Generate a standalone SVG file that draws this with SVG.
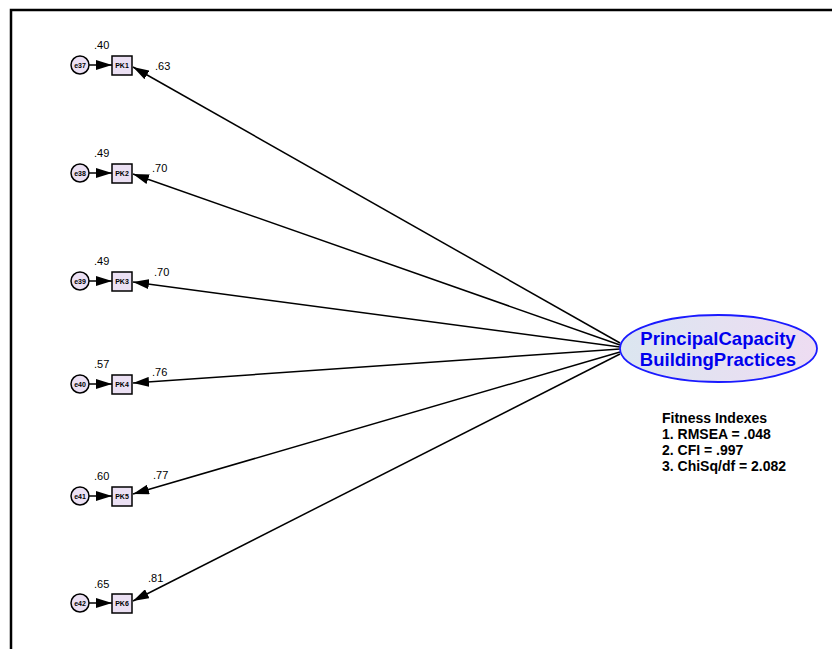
<svg xmlns="http://www.w3.org/2000/svg" width="832" height="649" viewBox="0 0 832 649">
  <defs>
    <linearGradient id="latentFill" x1="0" y1="0" x2="1" y2="0">
      <stop offset="0" stop-color="#dbe6f0"/>
      <stop offset="1" stop-color="#eedcf2"/>
    </linearGradient>
    <marker id="arrow" viewBox="0 0 16 10" refX="16" refY="5" markerWidth="16" markerHeight="10" markerUnits="userSpaceOnUse" orient="auto">
      <path d="M0,0 L16,5 L0,10 Z" fill="#000"/>
    </marker>
  </defs>
  <style>
    .frame { fill: none; stroke: #000; stroke-width: 2.5; }
    .obs { fill: #ebe0f3; stroke: #000; stroke-width: 1.5; }
    .err { fill: #ebe0f3; stroke: #000; stroke-width: 1.5; }
    .lbl { font-family: "Liberation Sans", Arial, sans-serif; font-weight: bold; font-size: 7px; text-anchor: middle; fill: #000; }
    .num { font-family: "Liberation Sans", Arial, sans-serif; font-size: 11px; fill: #000; }
    .path { stroke: #000; stroke-width: 1.5; fill: none; marker-end: url(#arrow); }
    .latent { fill: url(#latentFill); stroke: #1a1aff; stroke-width: 1.8; }
    .latentTxt { font-family: "Liberation Sans", Arial, sans-serif; font-weight: bold; font-size: 18.5px; text-anchor: middle; fill: #0000ee; }
    .fit { font-family: "Liberation Sans", Arial, sans-serif; font-weight: bold; font-size: 14px; fill: #000; }
  </style>

  <rect width="832" height="649" fill="#fff"/>
  <!-- frame: only top and left edges fall inside the canvas -->
  <path class="frame" d="M11,649 L11,10 L832,10"/>

  <!-- connectors -->
  <g id="connectors">
    <line class="path" x1="89" y1="65" x2="112" y2="65"/>
    <line class="path" x1="89" y1="173" x2="112" y2="173"/>
    <line class="path" x1="89" y1="281" x2="112" y2="281"/>
    <line class="path" x1="89" y1="384" x2="112" y2="384"/>
    <line class="path" x1="89" y1="496" x2="112" y2="496"/>
    <line class="path" x1="89" y1="603" x2="112" y2="603"/>

    <line class="path" x1="620" y1="343" x2="133" y2="67"/>
    <line class="path" x1="620" y1="345" x2="133" y2="174"/>
    <line class="path" x1="620" y1="347" x2="133" y2="282"/>
    <line class="path" x1="620" y1="349" x2="133" y2="383"/>
    <line class="path" x1="620" y1="352" x2="133" y2="494"/>
    <line class="path" x1="620" y1="354" x2="133" y2="601"/>
  </g>

  <!-- indicator PK1 -->
  <g id="pk1">
    <rect class="obs" x="112" y="56" width="20" height="19"/>
    <text class="lbl" x="122" y="67.5">PK1</text>
    <text class="num" x="94" y="49">.40</text>
    <text class="num" x="155" y="70">.63</text>
  </g>
  <g id="e37">
    <circle class="err" cx="80" cy="65" r="9"/>
    <text class="lbl" x="80" y="67.5">e37</text>
  </g>

  <!-- indicator PK2 -->
  <g id="pk2">
    <rect class="obs" x="112" y="164" width="20" height="19"/>
    <text class="lbl" x="122" y="175.5">PK2</text>
    <text class="num" x="94" y="157">.49</text>
    <text class="num" x="152" y="172">.70</text>
  </g>
  <g id="e38">
    <circle class="err" cx="80" cy="173" r="9"/>
    <text class="lbl" x="80" y="175.5">e38</text>
  </g>

  <!-- indicator PK3 -->
  <g id="pk3">
    <rect class="obs" x="112" y="272" width="20" height="19"/>
    <text class="lbl" x="122" y="283.5">PK3</text>
    <text class="num" x="94" y="265">.49</text>
    <text class="num" x="154" y="276">.70</text>
  </g>
  <g id="e39">
    <circle class="err" cx="80" cy="281" r="9"/>
    <text class="lbl" x="80" y="283.5">e39</text>
  </g>

  <!-- indicator PK4 -->
  <g id="pk4">
    <rect class="obs" x="112" y="375" width="20" height="19"/>
    <text class="lbl" x="122" y="386.5">PK4</text>
    <text class="num" x="94" y="368">.57</text>
    <text class="num" x="152" y="376">.76</text>
  </g>
  <g id="e40">
    <circle class="err" cx="80" cy="384" r="9"/>
    <text class="lbl" x="80" y="386.5">e40</text>
  </g>

  <!-- indicator PK5 -->
  <g id="pk5">
    <rect class="obs" x="112" y="487" width="20" height="19"/>
    <text class="lbl" x="122" y="498.5">PK5</text>
    <text class="num" x="94" y="480">.60</text>
    <text class="num" x="153" y="479">.77</text>
  </g>
  <g id="e41">
    <circle class="err" cx="80" cy="496" r="9"/>
    <text class="lbl" x="80" y="498.5">e41</text>
  </g>

  <!-- indicator PK6 -->
  <g id="pk6">
    <rect class="obs" x="112" y="594" width="20" height="19"/>
    <text class="lbl" x="122" y="605.5">PK6</text>
    <text class="num" x="94" y="588">.65</text>
    <text class="num" x="148" y="582">.81</text>
  </g>
  <g id="e42">
    <circle class="err" cx="80" cy="603" r="9"/>
    <text class="lbl" x="80" y="605.5">e42</text>
  </g>

  <!-- latent factor -->
  <g id="latent">
    <ellipse class="latent" cx="718.5" cy="348.5" rx="98.5" ry="33.5"/>
    <text class="latentTxt" x="718" y="345">PrincipalCapacity</text>
    <text class="latentTxt" x="718" y="366">BuildingPractices</text>
  </g>

  <!-- fit statistics -->
  <g id="fit">
    <text class="fit" x="662" y="423">Fitness Indexes</text>
    <text class="fit" x="662" y="439">1. RMSEA = .048</text>
    <text class="fit" x="662" y="455">2. CFI = .997</text>
    <text class="fit" x="662" y="471">3. ChiSq/df = 2.082</text>
  </g>
</svg>
